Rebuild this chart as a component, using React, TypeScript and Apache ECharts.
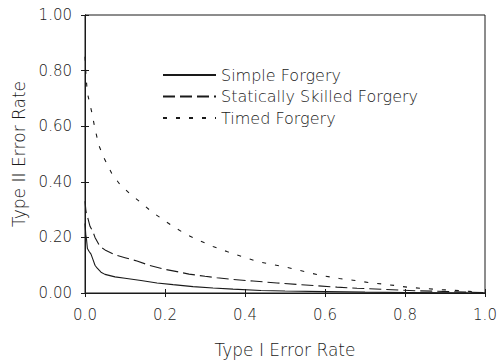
import React, { useEffect, useRef } from "react";
import * as echarts from "echarts";

const simpleX = [0, 0.002, 0.004, 0.006, 0.01, 0.015, 0.02, 0.025, 0.03, 0.04, 0.05, 0.075, 0.1, 0.14, 0.18, 0.22, 0.27, 0.32, 0.37, 0.44, 0.5, 0.6, 0.7, 0.8, 0.9, 1.0];
const simpleY = [0.25, 0.21, 0.19, 0.16, 0.15, 0.14, 0.12, 0.1, 0.09, 0.075, 0.067, 0.058, 0.053, 0.045, 0.036, 0.03, 0.023, 0.018, 0.014, 0.009, 0.007, 0.005, 0.003, 0.002, 0.001, 0];

const staticX = [0, 0.002, 0.004, 0.007, 0.0125, 0.02, 0.025, 0.0375, 0.05, 0.075, 0.1, 0.13, 0.16, 0.2, 0.23, 0.26, 0.3, 0.33, 0.37, 0.42, 0.48, 0.53, 0.58, 0.63, 0.68, 0.75, 0.83, 0.91, 1.0];
const staticY = [0.33, 0.3, 0.28, 0.27, 0.24, 0.22, 0.2, 0.167, 0.155, 0.137, 0.127, 0.115, 0.1, 0.085, 0.077, 0.068, 0.06, 0.055, 0.049, 0.043, 0.036, 0.031, 0.026, 0.021, 0.017, 0.013, 0.008, 0.005, 0.001];

const timedX = [0, 0.003, 0.006, 0.012, 0.017, 0.025, 0.035, 0.046, 0.067, 0.0875, 0.11, 0.14, 0.167, 0.196, 0.225, 0.254, 0.2875, 0.32, 0.355, 0.39, 0.425, 0.458, 0.496, 0.529, 0.565, 0.6, 0.636, 0.67, 0.708, 0.746, 0.78, 0.81, 0.85, 0.89, 0.92, 0.96, 0.98];
const timedY = [0.85, 0.77, 0.72, 0.68, 0.65, 0.59, 0.53, 0.49, 0.43, 0.39, 0.36, 0.325, 0.292, 0.263, 0.235, 0.21, 0.188, 0.167, 0.149, 0.132, 0.116, 0.105, 0.095, 0.084, 0.071, 0.061, 0.052, 0.046, 0.038, 0.032, 0.026, 0.02, 0.016, 0.012, 0.01, 0.006, 0.003];

const seriesNames = ["Simple Forgery", "Statically Skilled Forgery", "Timed Forgery"];

const zip = (xs: number[], ys: number[]) => xs.map((x, i) => [x, ys[i]]);

const FONT = "DejaVu Sans";
const INK = "#1a1a1a";

export default function App() {
  const ref = useRef<HTMLDivElement>(null);
  useEffect(() => {
    if (!ref.current) return;
    const chart = echarts.init(ref.current, null, { renderer: "svg" });
    const axisCommon = {
      type: "value" as const,
      min: 0,
      interval: 0.2,
      splitLine: { show: false },
      axisLine: { show: true, lineStyle: { color: INK, width: 1 } },
      axisTick: { show: true, inside: true, length: 4, lineStyle: { color: INK } },
    };
    chart.setOption({
      animation: false,
      backgroundColor: "#fff",
      grid: {
        left: 85, right: 14, top: 15, bottom: 68,
        containLabel: false, outerBoundsMode: "none",
        show: true, borderColor: INK, borderWidth: 1, backgroundColor: "transparent",
      },
      legend: {
        orient: "vertical",
        left: 162,
        top: 67,
        padding: 0,
        itemWidth: 53,
        itemHeight: 14,
        itemGap: 5.5,
        data: seriesNames,
        itemStyle: { opacity: 0 },
        textStyle: { fontFamily: FONT, fontSize: 16, fontWeight: 200, color: INK },
      },
      xAxis: [
        {
          ...axisCommon,
          max: 1,
          name: "Type I Error Rate",
          nameLocation: "middle",
          nameGap: 48,
          nameTextStyle: { fontFamily: FONT, fontSize: 17, fontWeight: 200, color: INK },
          axisLabel: { margin: 14, fontFamily: FONT, fontSize: 15, fontWeight: 200, color: INK, formatter: (v: number) => v.toFixed(1) },
        },
        {
          ...axisCommon,
          max: 1,
          position: "top",
          axisLabel: { show: false },
        },
      ],
      yAxis: [
        {
          ...axisCommon,
          max: 1,
          name: "Type II Error Rate",
          nameLocation: "middle",
          nameGap: 58,
          nameTextStyle: { fontFamily: FONT, fontSize: 17, fontWeight: 200, color: INK },
          axisLabel: { margin: 13, fontFamily: FONT, fontSize: 15, fontWeight: 200, color: INK, formatter: (v: number) => v.toFixed(2) },
        },
        {
          ...axisCommon,
          max: 1,
          position: "right",
          axisLabel: { show: false },
        },
      ],
      series: [
        {
          name: seriesNames[0],
          type: "line",
          symbol: "none",
          data: zip(simpleX, simpleY),
          lineStyle: { color: INK, width: 1.1, type: "solid" },
          itemStyle: { color: INK },
        },
        {
          name: seriesNames[1],
          type: "line",
          symbol: "none",
          data: zip(staticX, staticY),
          lineStyle: { color: INK, width: 1.1, type: [12, 5] },
          itemStyle: { color: INK },
        },
        {
          name: seriesNames[2],
          type: "line",
          symbol: "none",
          data: zip(timedX, timedY),
          lineStyle: { color: INK, width: 1.1, type: [4, 9] },
          itemStyle: { color: INK },
        },
      ],
    });
    return () => chart.dispose();
  }, []);
  return <div ref={ref} style={{ position: "fixed", left: 0, top: 0, width: 499, height: 361 }} />;
}
